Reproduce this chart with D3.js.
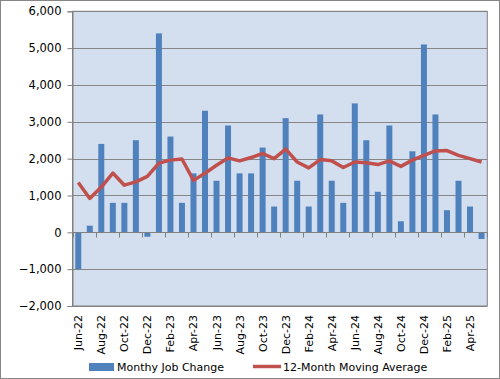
<!DOCTYPE html>
<html><head><meta charset="utf-8">
<script src="https://cdn.jsdelivr.net/npm/d3@7"></script>
<style>body{margin:0;background:#fff}svg{display:block}text{font-family:"DejaVu Sans",Verdana,sans-serif}</style>
</head><body><svg id="c" width="500" height="379"></svg>
<script>
const months = ["Jun-22","Jul-22","Aug-22","Sep-22","Oct-22","Nov-22","Dec-22","Jan-23","Feb-23","Mar-23","Apr-23","May-23","Jun-23","Jul-23","Aug-23","Sep-23","Oct-23","Nov-23","Dec-23","Jan-24","Feb-24","Mar-24","Apr-24","May-24","Jun-24","Jul-24","Aug-24","Sep-24","Oct-24","Nov-24","Dec-24","Jan-25","Feb-25","Mar-25","Apr-25","May-25"];
const jobChange = [-1000,180,2400,800,800,2500,-120,5400,2600,800,1600,3300,1400,2900,1600,1600,2300,700,3100,1400,700,3200,1400,800,3500,2500,1100,2900,300,2200,5100,3200,600,1400,700,-180];
const movingAvg = [1350,920,1230,1610,1280,1370,1520,1880,1960,1990,1410,1605,1820,2020,1940,2030,2140,2000,2260,1910,1750,1975,1940,1760,1910,1890,1840,1940,1790,1960,2090,2210,2220,2090,2000,1910];
const yTicks = [-2000,-1000,0,1000,2000,3000,4000,5000,6000];
const seriesNames = ["Monthy Job Change","12-Month Moving Average"];

const svg = d3.select("#c");
const L=72.5, R=487.3, T=11.3, B=306;
svg.append("rect").attr("x",0.5).attr("y",0.5).attr("width",499).attr("height",378).attr("fill","#fff").attr("stroke","#868686");
const x = d3.scaleBand().domain(months).range([L,R]).paddingInner(0.48).paddingOuter(0.24);
const xb = d3.scaleBand().domain(months).range([L,R]);
const y = d3.scaleLinear().domain([-2000,6000]).range([B,T]);
svg.append("rect").attr("x",L).attr("y",T).attr("width",R-L).attr("height",B-T).attr("fill","#D3DEEF");
svg.append("g").selectAll("line").data(yTicks).join("line")
  .attr("x1",L).attr("x2",R).attr("y1",d=>Math.round(y(d))+0.5).attr("y2",d=>Math.round(y(d))+0.5)
  .attr("stroke","#868686").attr("stroke-width",1);
svg.append("g").selectAll("rect").data(months).join("rect")
  .attr("x",(d)=>x(d)).attr("width",x.bandwidth())
  .attr("y",(d,i)=>y(Math.max(0,jobChange[i]))).attr("height",(d,i)=>Math.abs(y(jobChange[i])-y(0)))
  .attr("fill","#4F81BD");
svg.append("rect").attr("x",L).attr("y",T).attr("width",R-L).attr("height",B-T).attr("fill","none").attr("stroke","#808080");
const ya = svg.append("g").attr("transform",`translate(${L},0)`)
  .call(d3.axisLeft(y).tickValues(yTicks).tickSize(5).tickFormat(d3.format(",")));
ya.select(".domain").attr("stroke","#808080");
ya.selectAll(".tick line").attr("stroke","#808080");
ya.selectAll("text").attr("font-size","11.5px").attr("fill","#000").attr("font-family","DejaVu Sans").attr("x",-11);
const y0 = Math.round(y(0))+0.5;
const ticksX = months.filter((d,i)=>i%2===0).map(d=>xb(d)).concat([R]);
svg.append("g").selectAll("line").data(ticksX).join("line")
  .attr("x1",d=>Math.round(d)+0.5).attr("x2",d=>Math.round(d)+0.5).attr("y1",y0).attr("y2",y0+5).attr("stroke","#808080");
svg.append("line").attr("x1",L).attr("x2",R).attr("y1",y0).attr("y2",y0).attr("stroke","#808080");
svg.append("g").selectAll("text").data(months.filter((d,i)=>i%2===0)).join("text")
  .attr("transform",d=>`translate(${xb(d)+xb.bandwidth()/2+4},315) rotate(-90)`)
  .attr("text-anchor","end").attr("font-size","11px").attr("fill","#000").text(d=>d);
const line = d3.line().x((d,i)=>xb(months[i])+xb.bandwidth()/2).y(d=>y(d));
svg.append("path").datum(movingAvg).attr("d",line).attr("fill","none").attr("stroke","#C0504D").attr("stroke-width",3.5).attr("stroke-linejoin","round");
svg.append("rect").attr("x",89).attr("y",363).attr("width",25).attr("height",8).attr("fill","#4F81BD");
svg.append("text").attr("x",117).attr("y",371).attr("font-size","11px").text(seriesNames[0]);
svg.append("line").attr("x1",253).attr("x2",281).attr("y1",366.5).attr("y2",366.5).attr("stroke","#C0504D").attr("stroke-width",3.5);
svg.append("text").attr("x",283).attr("y",371).attr("font-size","11px").text(seriesNames[1]);
</script></body></html>
